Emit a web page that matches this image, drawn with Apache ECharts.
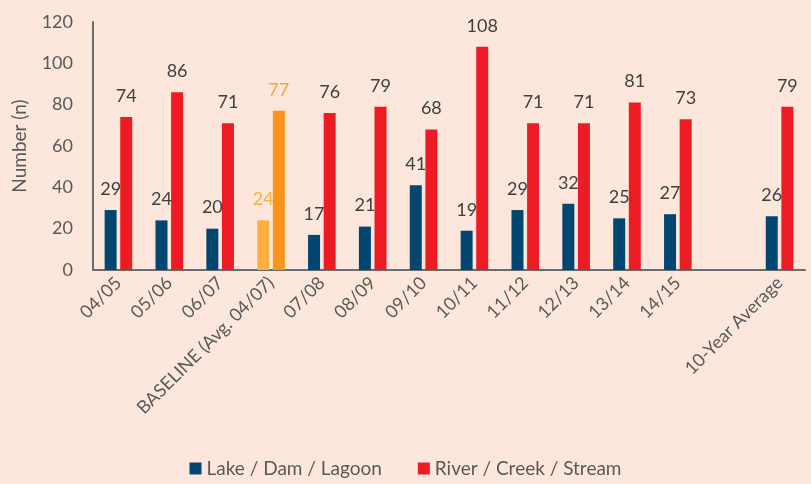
<!DOCTYPE html>
<html>
<head>
<meta charset="utf-8">
<script src="https://cdn.jsdelivr.net/npm/echarts@6/dist/echarts.min.js"></script>
<style>
  html, body { margin: 0; padding: 0; background: #fde7dd; }
  #chart { width: 811px; height: 484px; }
</style>
</head>
<body>
<div id="chart"></div>
<script>
// categories (blank slot before the 10-year average)
const categories = ['04/05', '05/06', '06/07', 'BASELINE (Avg. 04/07)', '07/08', '08/09', '09/10', '10/11', '11/12', '12/13', '13/14', '14/15', '', '10-Year Average']
const lakeValues = [29, 24, 20, 24, 17, 21, 41, 19, 29, 32, 25, 27, null, 26]
const riverValues = [74, 86, 71, 77, 76, 79, 68, 108, 71, 71, 81, 73, null, 79]
const baselineIndex = 3

const LAKE = '#00466f'
const RIVER = '#ed1c24'

function barData(values, color, baseColor, baseLabel) {
  return values.map((v, i) => {
    if (v === null) return '-'
    if (i === baselineIndex) {
      return {
        value: v,
        itemStyle: { color: baseColor },
        label: { color: baseLabel },
      }
    }
    return { value: v, itemStyle: { color } }
  })
}

const chart = echarts.init(document.getElementById('chart'))
chart.setOption({
  backgroundColor: '#fde7dd',
  textStyle: { fontFamily: 'Lato, Noto Sans, sans-serif' },
  grid: { left: 93, right: 6, top: 22, bottom: 214 },
  legend: {
    bottom: 1,
    left: 'center',
    itemWidth: 12,
    itemHeight: 12,
    itemGap: 36,
    icon: 'rect',
    textStyle: { color: '#595959', fontSize: 19 },
    data: ['Lake / Dam / Lagoon', 'River / Creek / Stream'],
  },
  xAxis: {
    type: 'category',
    data: categories,
    axisLine: { lineStyle: { color: '#6b6b6b', width: 2 } },
    axisTick: { show: false },
    axisLabel: {
      rotate: 45,
      interval: 0,
      color: '#595959',
      fontSize: 18,
      margin: 10,
    },
  },
  yAxis: {
    type: 'value',
    min: 0,
    max: 120,
    interval: 20,
    name: 'Number (n)',
    nameLocation: 'middle',
    nameGap: 64,
    nameTextStyle: { color: '#595959', fontSize: 19 },
    axisLine: { show: true, lineStyle: { color: '#6b6b6b', width: 2 } },
    axisTick: { show: false },
    splitLine: { show: false },
    axisLabel: { color: '#595959', fontSize: 18, margin: 20 },
  },
  series: [
    {
      name: 'Lake / Dam / Lagoon',
      type: 'bar',
      barWidth: 12,
      barGap: '30%',
      itemStyle: { color: LAKE },
      label: { show: true, position: 'top', distance: 12, color: '#404040', fontSize: 18 },
      data: barData(lakeValues, LAKE, '#fbb041', '#fbb041'),
    },
    {
      name: 'River / Creek / Stream',
      type: 'bar',
      barWidth: 12,
      barGap: '30%',
      itemStyle: { color: RIVER },
      label: { show: true, position: 'top', distance: 12, color: '#404040', fontSize: 18 },
      data: barData(riverValues, RIVER, '#f7941d', '#f9a43b'),
    },
  ],
})
</script>
</body>
</html>
